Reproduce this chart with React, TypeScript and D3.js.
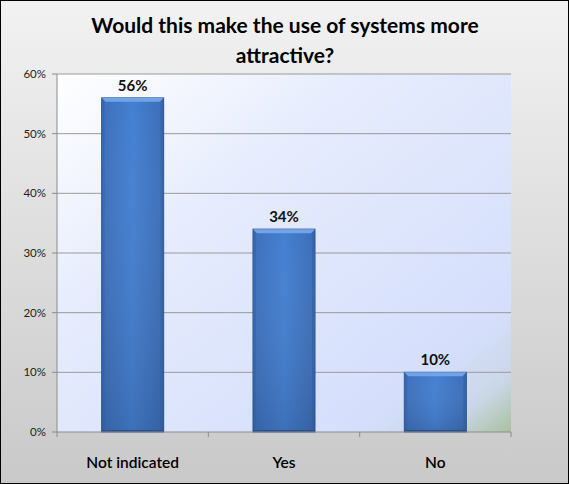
import React from "react";
import * as d3 from "d3";

const categories: string[] = ["Not indicated", "Yes", "No"];
const values: number[] = [0.56, 0.34, 0.10];
const yTicks: number[] = [0, 0.1, 0.2, 0.3, 0.4, 0.5, 0.6];
const titleLines: string[] = ["Would this make the use of systems more", "attractive?"];

const W = 569;
const H = 484;
const plot = { left: 57, right: 511, top: 74, bottom: 432 };
const FONT = "Lato, 'Open Sans', sans-serif";

export default function App() {
  const x = d3
    .scaleBand<string>()
    .domain(categories)
    .range([plot.left, plot.right])
    .paddingInner(0.59)
    .paddingOuter(0.295);
  const y = d3.scaleLinear().domain([0, 0.6]).range([plot.bottom, plot.top]);
  const fmt = d3.format(".0%");
  const boundaries = d3.range(categories.length + 1).map(
    (i) => plot.left + (i * (plot.right - plot.left)) / categories.length
  );

  return (
    <svg
      width={W}
      height={H}
      style={{ position: "absolute", left: 0, top: 0, display: "block" }}
      fontFamily={FONT}
    >
      <defs>
        <linearGradient id="bgGrad" x1="0" y1="0" x2="0" y2="1">
          <stop offset="0" stopColor="#f2f2f2" />
          <stop offset="1" stopColor="#c9c9c9" />
        </linearGradient>
        <linearGradient id="plotGrad" x1="0" y1="0" x2="1" y2="1">
          <stop offset="0" stopColor="#ffffff" />
          <stop offset="0.35" stopColor="#e6ecfd" />
          <stop offset="0.82" stopColor="#d5dffc" />
          <stop offset="0.92" stopColor="#cbd7e8" />
          <stop offset="1" stopColor="#a9c1a0" />
        </linearGradient>
        <linearGradient id="barGrad" x1="0" y1="0" x2="1" y2="0">
          <stop offset="0" stopColor="#3d6fbb" />
          <stop offset="0.5" stopColor="#4480d2" />
          <stop offset="1" stopColor="#3c6db7" />
        </linearGradient>
        <linearGradient id="barV" x1="0" y1="0" x2="0" y2="1">
          <stop offset="0" stopColor="#ffffff" stopOpacity="0" />
          <stop offset="1" stopColor="#000000" stopOpacity="0.12" />
        </linearGradient>
      </defs>

      <rect x={0.5} y={0.5} width={W - 1} height={H - 1} fill="url(#bgGrad)" stroke="#000" strokeWidth={1} />

      {titleLines.map((t, i) => (
        <text
          key={i}
          x={285}
          y={33 + i * 30}
          textAnchor="middle"
          fontSize={21}
          fontWeight="bold"
          fill="#000"
        >
          {t}
        </text>
      ))}

      <rect
        x={plot.left}
        y={plot.top}
        width={plot.right - plot.left}
        height={plot.bottom - plot.top}
        fill="url(#plotGrad)"
      />

      {yTicks.map((t) => (
        <g key={t}>
          {t > 0 && (
            <line x1={plot.left} x2={plot.right} y1={y(t)} y2={y(t)} stroke="#9a9a9a" strokeWidth={1} />
          )}
          <line x1={plot.left - 5} x2={plot.left} y1={y(t)} y2={y(t)} stroke="#8c8c8c" />
          <text x={46} y={y(t)} dy="0.35em" textAnchor="end" fontSize={11.5} fill="#222">
            {fmt(t)}
          </text>
        </g>
      ))}

      {categories.map((c, i) => {
        const bx = x(c)!;
        const bw = x.bandwidth();
        const by = y(values[i]);
        const bh = plot.bottom - by;
        return (
          <g key={c}>
            <rect x={bx} y={by} width={bw} height={bh} fill="url(#barGrad)" stroke="#2d5a96" strokeWidth={1} />
            <rect x={bx} y={by} width={bw} height={bh} fill="url(#barV)" />
            <polygon
              points={`${bx},${by} ${bx + bw},${by} ${bx + bw - 4},${by + 4} ${bx + 4},${by + 4}`}
              fill="#72a3e6"
            />
            <polygon
              points={`${bx + bw},${by} ${bx + bw},${by + bh} ${bx + bw - 3},${by + bh} ${bx + bw - 3},${by + 4}`}
              fill="#2f5c9c"
              opacity={0.5}
            />
            <polygon
              points={`${bx},${by} ${bx + 3},${by + 4} ${bx + 3},${by + bh} ${bx},${by + bh}`}
              fill="#2f5c9c"
              opacity={0.4}
            />
            <line x1={bx} x2={bx + bw} y1={plot.bottom - 1} y2={plot.bottom - 1} stroke="#2a4f85" strokeWidth={2} />
            <text
              x={bx + bw / 2}
              y={by - 7}
              textAnchor="middle"
              fontSize={15}
              fontWeight="bold"
              fill="#111"
            >
              {fmt(values[i])}
            </text>
            <text x={bx + bw / 2} y={468} textAnchor="middle" fontSize={15.5} fill="#000" fontWeight={600}>
              {c}
            </text>
          </g>
        );
      })}

      <line x1={plot.left} x2={plot.left} y1={plot.top} y2={plot.bottom} stroke="#8c8c8c" />
      <line x1={plot.left} x2={plot.right} y1={plot.bottom} y2={plot.bottom} stroke="#8c8c8c" />
      {boundaries.map((b, i) => (
        <line key={i} x1={b} x2={b} y1={plot.bottom} y2={plot.bottom + 5} stroke="#8c8c8c" />
      ))}
    </svg>
  );
}
